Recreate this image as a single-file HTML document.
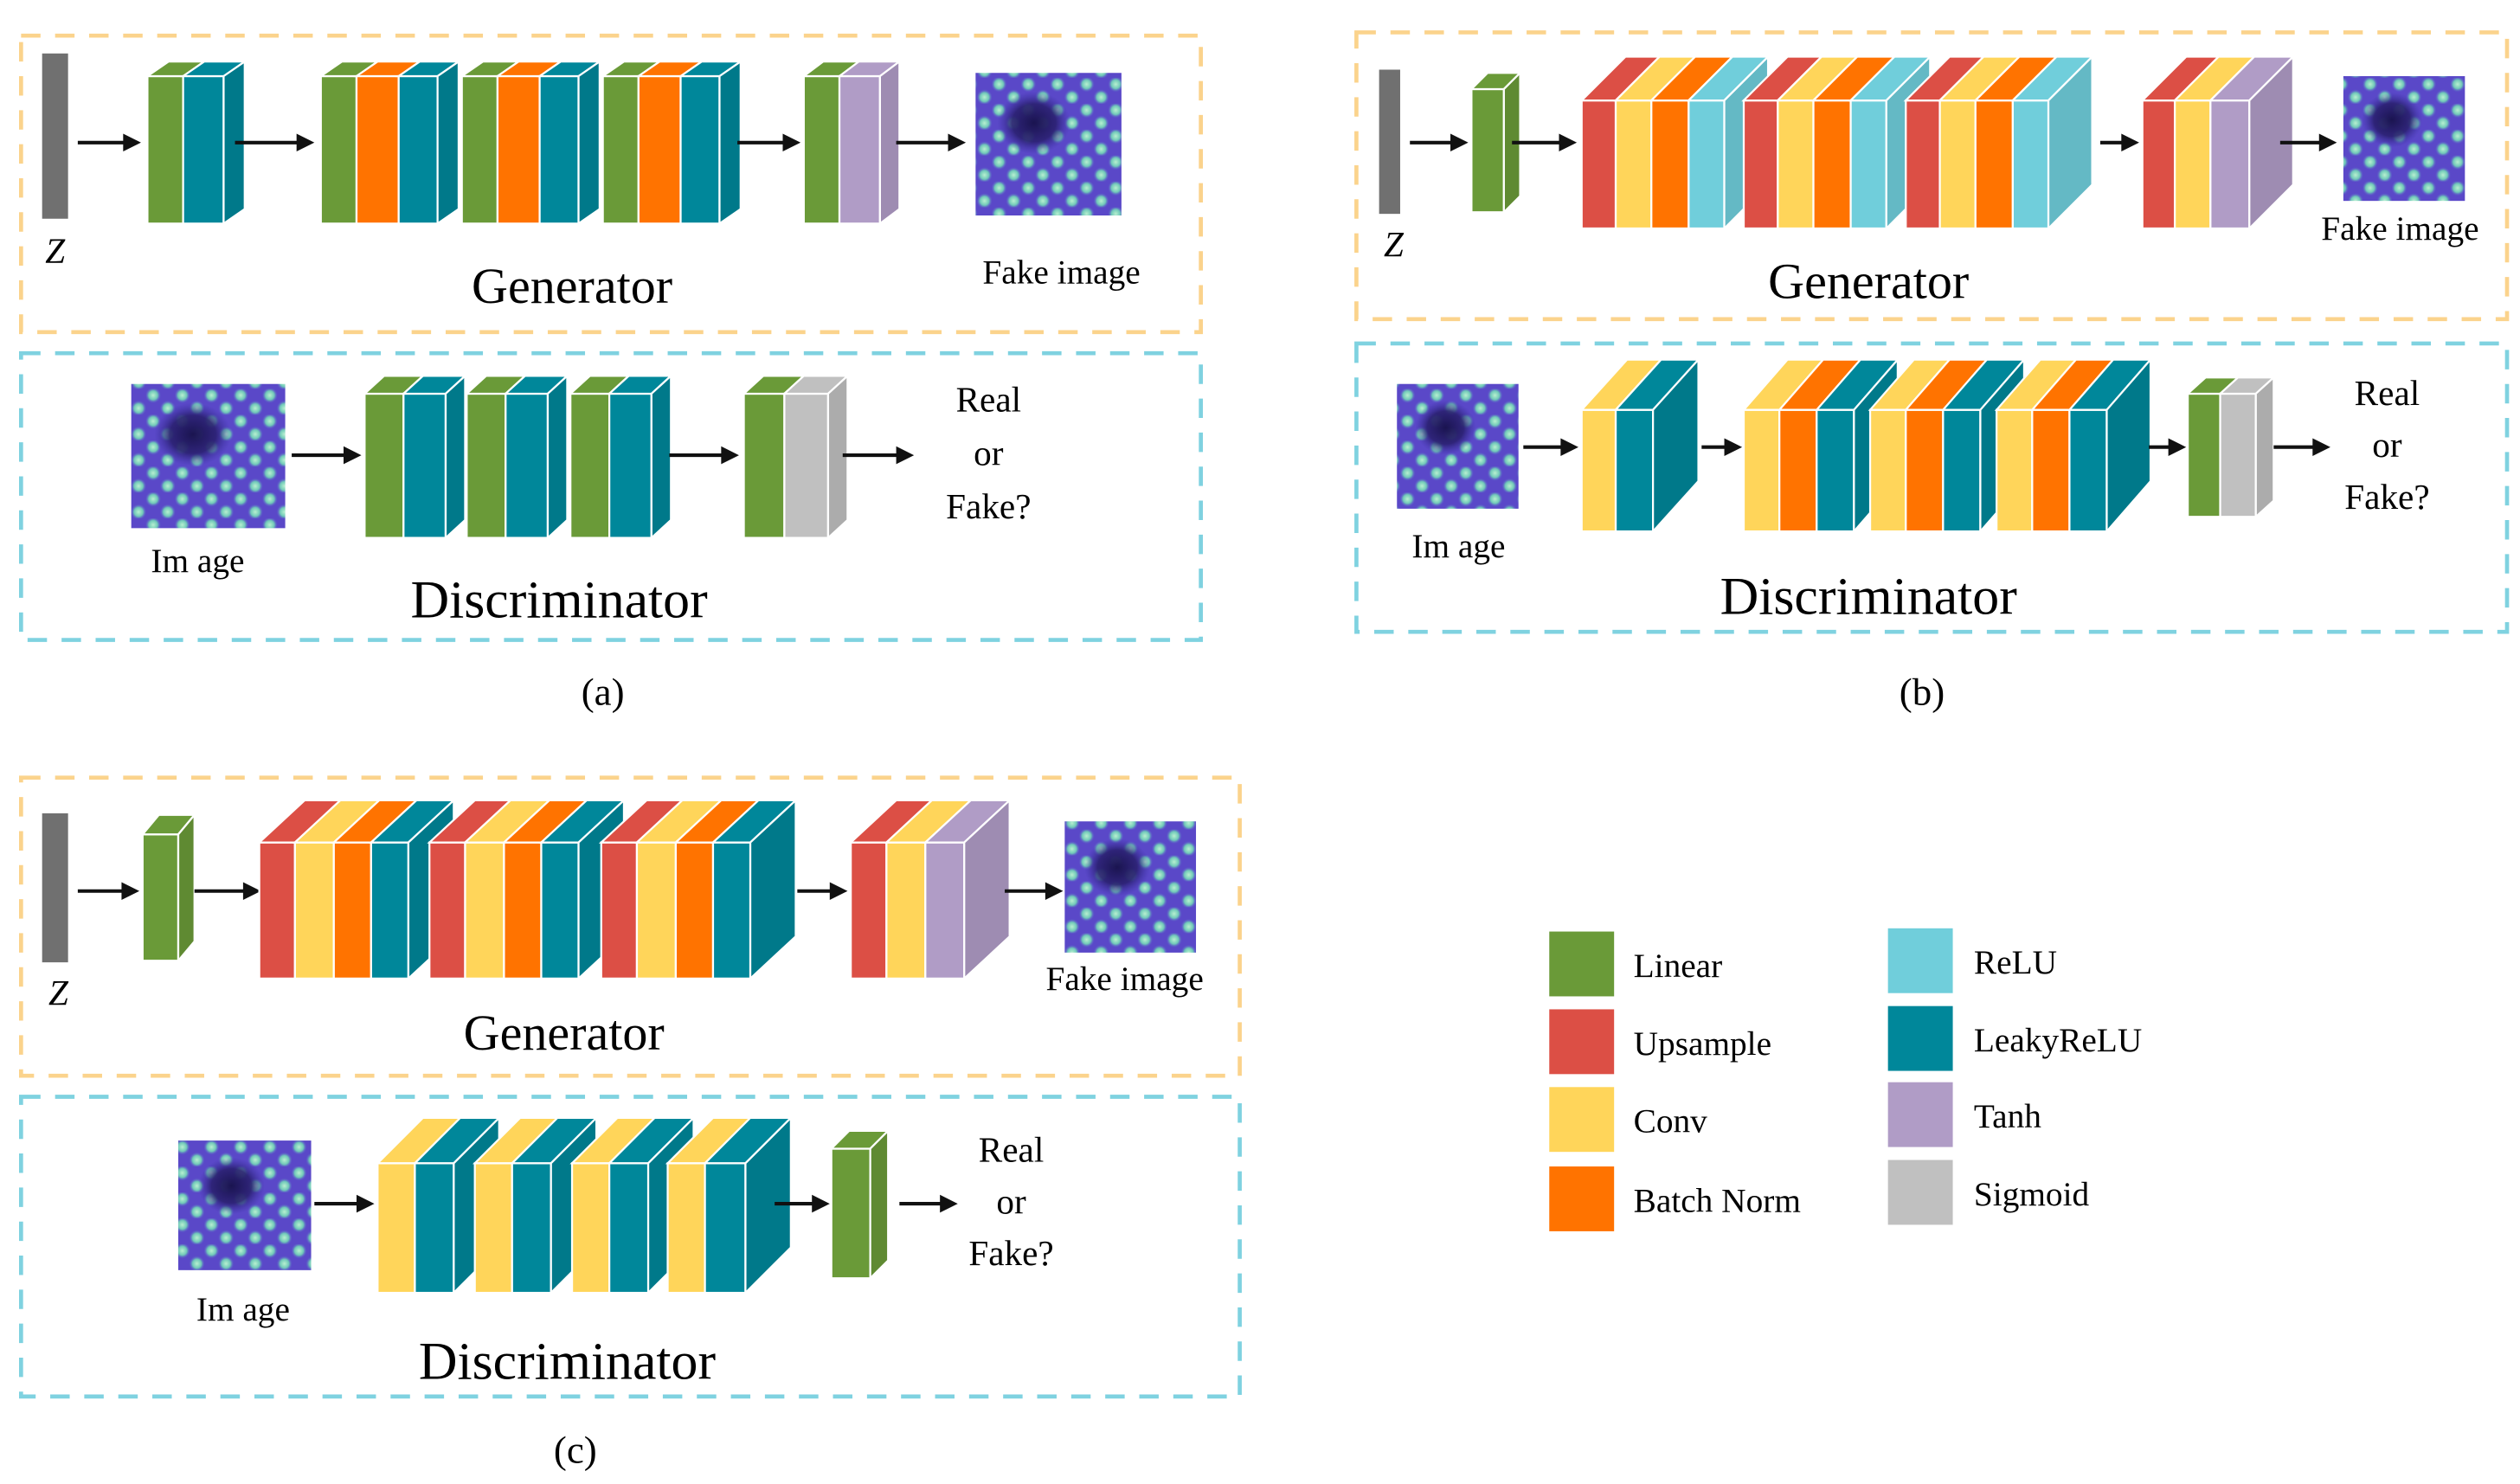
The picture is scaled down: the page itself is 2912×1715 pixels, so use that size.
<!DOCTYPE html>
<html><head><meta charset="utf-8">
<style>html,body{margin:0;padding:0;background:#fff;}svg{display:block;}
text{font-family:"Liberation Serif",serif;fill:#000;}</style></head>
<body>
<svg id="s" width="2912" height="1715" viewBox="0 0 1555 916" preserveAspectRatio="none" xmlns="http://www.w3.org/2000/svg">
<defs>
<radialGradient id="dot"><stop offset="0" stop-color="#b8f0d0"/><stop offset="0.55" stop-color="#6fc8b8"/><stop offset="1" stop-color="#5a4fd0" stop-opacity="0"/></radialGradient>
<pattern id="tex" width="18" height="16" patternUnits="userSpaceOnUse">
<rect width="18" height="16" fill="#5a48c8"/>
<circle cx="4.5" cy="4" r="5" fill="url(#dot)"/><circle cx="13.5" cy="12" r="5" fill="url(#dot)"/>
</pattern>
<radialGradient id="blob"><stop offset="0" stop-color="#1a1450"/><stop offset="0.6" stop-color="#2a2070" stop-opacity="0.9"/><stop offset="1" stop-color="#3a30a0" stop-opacity="0"/></radialGradient>
</defs>
<g id="g"></g>
</svg>
<script>
var C={G:"#6a9a38",T:"#00879a",O:"#ff7300",R:"#dc4f45",Y:"#ffd55a",L:"#70cedb",P:"#b09cc6",S:"#c0c0c0"};
function dk(c){var n=parseInt(c.slice(1),16),r=n>>16,g=(n>>8)&255,b=n&255;var f=0.9;return "rgb("+(r*f|0)+","+(g*f|0)+","+(b*f|0)+")";}
var o="";
function stack(x,top,ft,fb,ws,cols,dx,sideX){
 var dy=ft-top,cx=x;
 for(var i=0;i<ws.length;i++){var w=ws[i],c=C[cols[i]];
  o+='<rect x="'+cx+'" y="'+ft+'" width="'+w+'" height="'+(fb-ft)+'" fill="'+c+'" stroke="#fff" stroke-width="1.2"/>';
  o+='<polygon points="'+cx+','+ft+' '+(cx+dx)+','+top+' '+(cx+w+dx)+','+top+' '+(cx+w)+','+ft+'" fill="'+c+'" stroke="#fff" stroke-width="1.2"/>';
  cx+=w;}
 var lc=C[cols[cols.length-1]];
 o+='<polygon points="'+cx+','+ft+' '+(cx+dx)+','+top+' '+(cx+dx)+','+(fb-dy)+' '+cx+','+fb+'" fill="'+dk(lc)+'" stroke="#fff" stroke-width="1.2"/>';
}
function arr(x1,x2,y){o+='<line x1="'+x1+'" y1="'+y+'" x2="'+(x2-9)+'" y2="'+y+'" stroke="#111" stroke-width="2.2"/><polygon points="'+(x2-11)+','+(y-5.5)+' '+x2+','+y+' '+(x2-11)+','+(y+5.5)+'" fill="#111"/>';}
function box(x,y,w,h,c){o+='<rect x="'+x+'" y="'+y+'" width="'+w+'" height="'+h+'" fill="none" stroke="'+c+'" stroke-width="2.5" stroke-dasharray="12 9"/>';}
function img(x,y,w,h){o+='<rect x="'+x+'" y="'+y+'" width="'+w+'" height="'+h+'" fill="url(#tex)"/><ellipse cx="'+(x+w*0.4)+'" cy="'+(y+h*0.35)+'" rx="'+w*0.25+'" ry="'+h*0.22+'" fill="url(#blob)"/>';}
function t(x,y,s,str,sz,it){o+='<text x="'+x+'" y="'+y+'" font-size="'+sz+'" text-anchor="middle"'+(it?' font-style="italic"':'')+'>'+str+'</text>';}
function zbar(x,y,w,h){o+='<rect x="'+x+'" y="'+y+'" width="'+w+'" height="'+h+'" fill="#707070"/>';}
var OR="#fbd38c",CY="#7fd2e0";
// ===== (a) =====
box(13,22,728,183,OR);box(13,218,728,177,CY);
zbar(26,33,16,102);t(34,162,0,"Z",22,1);
arr(48,87,88);stack(91,38,47,138,[22,25],"GT",13);
arr(145,194,88);
stack(198,38,47,138,[22,26,24],"GOT",13);stack(285,38,47,138,[22,26,24],"GOT",13);stack(372,38,47,138,[22,26,24],"GOT",13);
arr(455,494,88);stack(496,38,47,138,[22,25],"GP",12);
arr(553,596,88);img(602,45,90,88);
t(655,175,0,"Fake image",21);t(353,187,0,"Generator",31);
img(81,237,95,89);t(122,353,0,"Im age",21);
arr(180,223,281);
stack(225,232,243,332,[24,26],"GT",12);stack(288,232,243,332,[24,26],"GT",12);stack(352,232,243,332,[24,26],"GT",12);
arr(413,456,281);stack(459,232,243,332,[25,27],"GS",12);
arr(520,564,281);
t(610,254,0,"Real",22);t(610,287,0,"or",22);t(610,320,0,"Fake?",22);
t(345,381,0,"Discriminator",33);t(372,435,0,"(a)",24);
// ===== (b) =====
box(837,20,710,177,OR);box(837,212,710,178,CY);
zbar(851,43,13,89);t(860,158,0,"Z",22,1);
arr(870,906,88);stack(908,45,55,131,[20],"G",10);
arr(933,973,88);
stack(976,35,62,141,[21,22,23,22],"RYOL",27);stack(1076,35,62,141,[21,22,23,22],"RYOL",27);stack(1176,35,62,141,[21,22,23,22],"RYOL",27);
arr(1296,1320,88);stack(1322,35,62,141,[20,22,24],"RYP",27);
arr(1407,1442,88);img(1446,47,75,77);
t(1481,148,0,"Fake image",21);t(1153,184,0,"Generator",31);
img(862,237,75,77);t(900,344,0,"Im age",21);
arr(940,974,276);stack(976,222,253,328,[21,23],"YT",28);
arr(1050,1075,276);
stack(1076,222,253,328,[22,23,23],"YOT",27);stack(1154,222,253,328,[22,23,23],"YOT",27);stack(1232,222,253,328,[22,23,23],"YOT",27);
arr(1326,1349,276);stack(1350,233,243,319,[20,22],"GS",11);
arr(1403,1438,276);
t(1473,250,0,"Real",22);t(1473,282,0,"or",22);t(1473,314,0,"Fake?",22);
t(1153,379,0,"Discriminator",33);t(1186,435,0,"(b)",24);
// ===== (c) =====
box(13,480,752,184,OR);box(13,677,752,185,CY);
zbar(26,502,16,92);t(36,620,0,"Z",22,1);
arr(48,86,550);stack(88,503,515,593,[22],"G",10);
arr(120,161,550);
stack(160,494,520,604,[22,24,23,23],"RYOT",28);stack(265,494,520,604,[22,24,23,23],"RYOT",28);stack(371,494,520,604,[22,24,23,23],"RYOT",28);
arr(492,523,550);stack(525,494,520,604,[22,24,24],"RYP",28);
arr(620,656,550);img(657,507,81,81);
t(694,611,0,"Fake image",21);t(348,648,0,"Generator",31);
img(110,704,82,80);t(150,815,0,"Im age",21);
arr(194,231,743);
stack(233,690,718,798,[23,24],"YT",28);stack(293,690,718,798,[23,24],"YT",28);stack(353,690,718,798,[23,24],"YT",28);stack(412,690,718,798,[23,25],"YT",28);
arr(478,512,743);stack(513,698,709,789,[24],"G",11);
arr(555,591,743);
t(624,717,0,"Real",22);t(624,749,0,"or",22);t(624,781,0,"Fake?",22);
t(350,851,0,"Discriminator",33);t(355,903,0,"(c)",24);
// ===== legend =====
var L1=[["G","Linear",575],["R","Upsample",623],["Y","Conv",671],["O","Batch Norm",720]];
var L2=[["L","ReLU",573],["T","LeakyReLU",621],["P","Tanh",668],["S","Sigmoid",716]];
L1.forEach(function(a){o+='<rect x="956" y="'+a[2]+'" width="40" height="40" fill="'+C[a[0]]+'"/><text x="1008" y="'+(a[2]+28)+'" font-size="21">'+a[1]+'</text>';});
L2.forEach(function(a){o+='<rect x="1165" y="'+a[2]+'" width="40" height="40" fill="'+C[a[0]]+'"/><text x="1218" y="'+(a[2]+28)+'" font-size="21">'+a[1]+'</text>';});
document.getElementById("g").innerHTML=o;
</script>
</body></html>
